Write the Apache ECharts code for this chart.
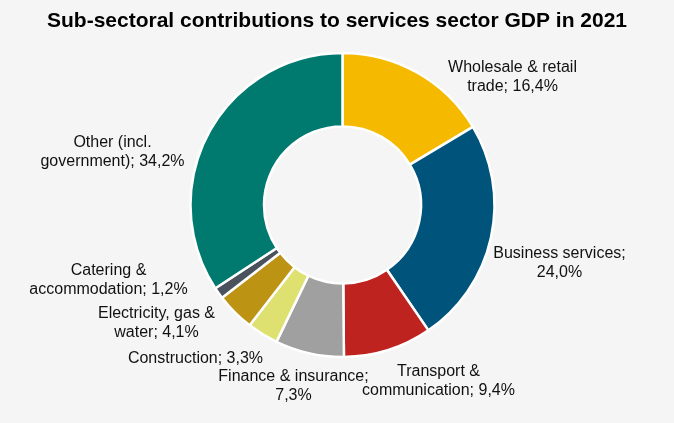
<!DOCTYPE html>
<html>
<head>
<meta charset="utf-8">
<script src="https://cdn.jsdelivr.net/npm/echarts@6/dist/echarts.min.js"></script>
<style>
html,body{margin:0;padding:0;background:#f5f5f5;}
#chart{width:674px;height:423px;}
</style>
</head>
<body>
<div id="chart"></div>
<script>
// Data
var categories = ['Wholesale & retail\ntrade', 'Business services', 'Transport &\ncommunication', 'Finance & insurance', 'Construction', 'Electricity, gas &\nwater', 'Catering &\naccommodation', 'Other (incl.\ngovernment)'];
var values = [16.4, 24.0, 9.4, 7.3, 3.3, 4.1, 1.2, 34.2];
var breakAfterName = [false, true, false, true, false, false, false, false];

// Styles
var colors = ['#F5BA00', '#00547C', '#BE2320', '#A0A0A0', '#DEE170', '#BC9312', '#4A535D', '#007A6E'];
var center = [342.5, 205];
// label anchor offsets from the pie centre (px)
var labelOffsets = [[170, -128], [217, 58], [96, 176], [-49, 181], [-147, 154], [-186, 118], [-234, 75], [-230, -53]];

function fmt(v) { return v.toFixed(1).replace('.', ','); }

var chart = echarts.init(document.getElementById('chart'), null, {renderer: 'canvas'});
chart.setOption({
  backgroundColor: '#f5f5f5',
  animation: false,
  title: {
    text: 'Sub-sectoral contributions to services sector GDP in 2021',
    left: 'center',
    top: 11,
    padding: 0,
    textStyle: {fontFamily: 'Liberation Sans, Arial, sans-serif', fontSize: 21, fontWeight: 'bold', color: '#000'}
  },
  series: [{
    type: 'pie',
    center: center,
    radius: [78.5, 152],
    startAngle: 90,
    clockwise: true,
    avoidLabelOverlap: false,
    data: categories.map(function (c, i) {
      return {name: c, value: values[i], itemStyle: {color: colors[i]}};
    }),
    itemStyle: {borderColor: '#ffffff', borderWidth: 2.5},
    label: {
      show: true,
      position: 'outside',
      fontFamily: 'Liberation Sans, Arial, sans-serif',
      fontSize: 16,
      lineHeight: 19,
      color: '#111',
      align: 'center',
      formatter: function (p) {
        return p.name + (breakAfterName[p.dataIndex] ? ';\n' : '; ') + fmt(values[p.dataIndex]) + '%';
      }
    },
    labelLine: {show: false},
    labelLayout: function (p) {
      var o = labelOffsets[p.dataIndex];
      return {x: center[0] + o[0], y: center[1] + o[1], align: 'center', verticalAlign: 'middle'};
    },
    emphasis: {disabled: true}
  }]
});
</script>
</body>
</html>
